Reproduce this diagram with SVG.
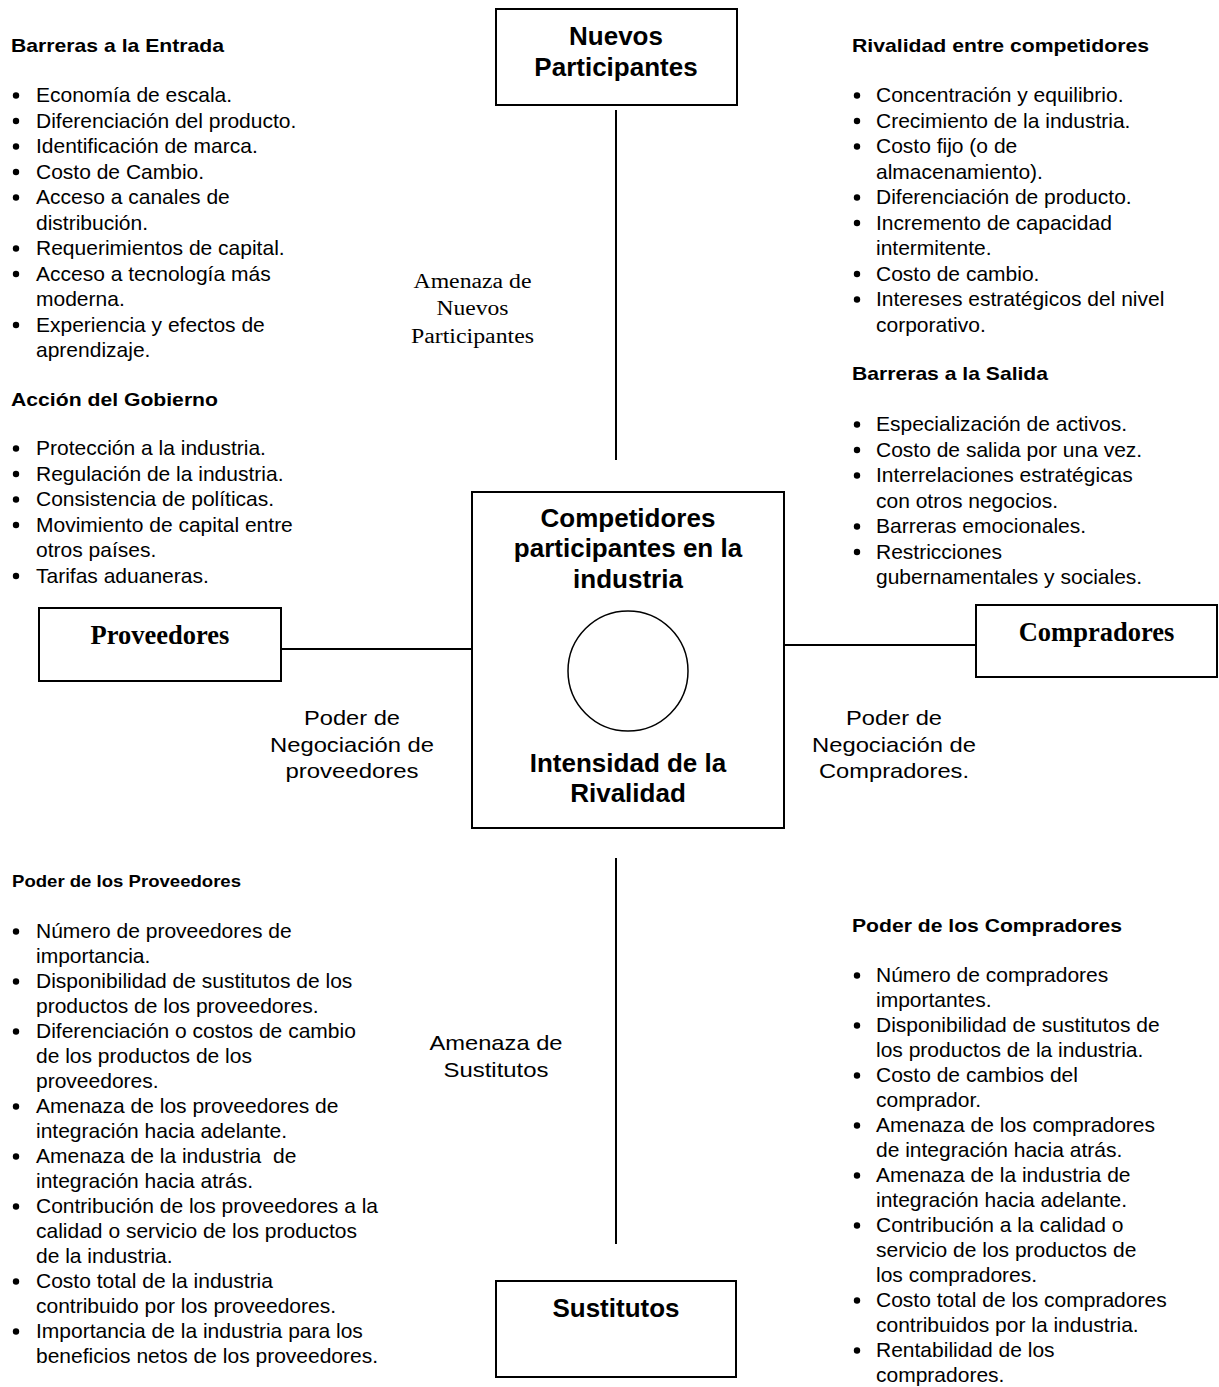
<svg xmlns="http://www.w3.org/2000/svg" width="1219" height="1387" viewBox="0 0 1219 1387">
<style>
.box{fill:#fff;stroke:#000;stroke-width:2}
.ln{stroke:#000;stroke-width:2;fill:none}
.t{font-family:"Liberation Sans",Arial,sans-serif;font-size:21px;fill:#000}
.h{font-family:"Liberation Sans",Arial,sans-serif;font-size:19px;font-weight:bold;fill:#000}
.hs{font-family:"Liberation Sans",Arial,sans-serif;font-size:16.5px;font-weight:bold;fill:#000}
.nb{font-family:"Liberation Sans",Arial,sans-serif;font-size:26px;font-weight:bold;fill:#000;text-anchor:middle}
.sb{font-family:"Liberation Serif","Times New Roman",serif;font-size:26.5px;font-weight:bold;fill:#000;text-anchor:middle}
.sr{font-family:"Liberation Serif","Times New Roman",serif;font-size:20.5px;fill:#000;text-anchor:middle}
.lb{font-family:"Liberation Sans",Arial,sans-serif;font-size:21px;fill:#000;text-anchor:middle}
.b{fill:#000}
</style>
<rect width="1219" height="1387" fill="#fff"/>

<g id="connectors">
<line class="ln" x1="616" y1="110" x2="616" y2="460"/>
<line class="ln" x1="616" y1="858" x2="616" y2="1244"/>
<line class="ln" x1="281" y1="649" x2="472" y2="649"/>
<line class="ln" x1="784" y1="645" x2="976" y2="645"/>
</g>

<g id="node-nuevos">
<rect class="box" x="496" y="9" width="241" height="96"/>
<text class="nb" x="616" y="45">Nuevos</text>
<text class="nb" x="616" y="76">Participantes</text>
</g>

<g id="node-competidores">
<rect class="box" x="472" y="492" width="312" height="336"/>
<text class="nb" x="628" y="527">Competidores</text>
<text class="nb" x="628" y="557">participantes en la</text>
<text class="nb" x="628" y="588">industria</text>
<circle cx="628" cy="671" r="60" fill="#fff" stroke="#000" stroke-width="1.5"/>
<text class="nb" x="628" y="772">Intensidad de la</text>
<text class="nb" x="628" y="802">Rivalidad</text>
</g>

<g id="node-proveedores">
<rect class="box" x="39" y="608" width="242" height="73"/>
<text class="sb" x="160" y="644">Proveedores</text>
</g>

<g id="node-compradores">
<rect class="box" x="976" y="605" width="241" height="72"/>
<text class="sb" x="1096.5" y="641">Compradores</text>
</g>

<g id="node-sustitutos">
<rect class="box" x="496" y="1281" width="240" height="96"/>
<text class="nb" x="616" y="1317">Sustitutos</text>
</g>

<g id="label-amenaza-nuevos">
<text class="sr" x="472.5" y="288" textLength="118" lengthAdjust="spacingAndGlyphs">Amenaza de</text>
<text class="sr" x="472.5" y="315" textLength="72" lengthAdjust="spacingAndGlyphs">Nuevos</text>
<text class="sr" x="472.5" y="343" textLength="123" lengthAdjust="spacingAndGlyphs">Participantes</text>
</g>

<g id="label-poder-proveedores">
<text class="lb" x="352" y="725" textLength="96" lengthAdjust="spacingAndGlyphs">Poder de</text>
<text class="lb" x="352" y="751.5" textLength="164" lengthAdjust="spacingAndGlyphs">Negociación de</text>
<text class="lb" x="352" y="778" textLength="133" lengthAdjust="spacingAndGlyphs">proveedores</text>
</g>

<g id="label-poder-compradores">
<text class="lb" x="894" y="725" textLength="96" lengthAdjust="spacingAndGlyphs">Poder de</text>
<text class="lb" x="894" y="751.5" textLength="164" lengthAdjust="spacingAndGlyphs">Negociación de</text>
<text class="lb" x="894" y="778" textLength="150" lengthAdjust="spacingAndGlyphs">Compradores.</text>
</g>

<g id="label-amenaza-sustitutos">
<text class="lb" x="496" y="1050" textLength="133" lengthAdjust="spacingAndGlyphs">Amenaza de</text>
<text class="lb" x="496" y="1076.5" textLength="105" lengthAdjust="spacingAndGlyphs">Sustitutos</text>
</g>

<g id="list-barreras-entrada">
<text class="h" x="11" y="52" textLength="213" lengthAdjust="spacingAndGlyphs">Barreras a la Entrada</text>
<circle class="b" cx="16" cy="95.5" r="3.2"/>
<text class="t" x="36" y="102">Economía de escala.</text>
<circle class="b" cx="16" cy="121" r="3.2"/>
<text class="t" x="36" y="127.5">Diferenciación del producto.</text>
<circle class="b" cx="16" cy="146.5" r="3.2"/>
<text class="t" x="36" y="153">Identificación de marca.</text>
<circle class="b" cx="16" cy="172" r="3.2"/>
<text class="t" x="36" y="178.5">Costo de Cambio.</text>
<circle class="b" cx="16" cy="197.5" r="3.2"/>
<text class="t" x="36" y="204">Acceso a canales de</text>
<text class="t" x="36" y="229.5">distribución.</text>
<circle class="b" cx="16" cy="248.5" r="3.2"/>
<text class="t" x="36" y="255">Requerimientos de capital.</text>
<circle class="b" cx="16" cy="274" r="3.2"/>
<text class="t" x="36" y="280.5">Acceso a tecnología más</text>
<text class="t" x="36" y="306">moderna.</text>
<circle class="b" cx="16" cy="325" r="3.2"/>
<text class="t" x="36" y="331.5">Experiencia y efectos de</text>
<text class="t" x="36" y="357">aprendizaje.</text>
</g>

<g id="list-gobierno">
<text class="h" x="11" y="406" textLength="207" lengthAdjust="spacingAndGlyphs">Acción del Gobierno</text>
<circle class="b" cx="16" cy="448.5" r="3.2"/>
<text class="t" x="36" y="455">Protección a la industria.</text>
<circle class="b" cx="16" cy="474" r="3.2"/>
<text class="t" x="36" y="480.5">Regulación de la industria.</text>
<circle class="b" cx="16" cy="499.5" r="3.2"/>
<text class="t" x="36" y="506">Consistencia de políticas.</text>
<circle class="b" cx="16" cy="525" r="3.2"/>
<text class="t" x="36" y="531.5">Movimiento de capital entre</text>
<text class="t" x="36" y="557">otros países.</text>
<circle class="b" cx="16" cy="576" r="3.2"/>
<text class="t" x="36" y="582.5">Tarifas aduaneras.</text>
</g>

<g id="list-rivalidad">
<text class="h" x="852" y="52" textLength="297" lengthAdjust="spacingAndGlyphs">Rivalidad entre competidores</text>
<circle class="b" cx="857" cy="95.5" r="3.2"/>
<text class="t" x="876" y="102">Concentración y equilibrio.</text>
<circle class="b" cx="857" cy="121" r="3.2"/>
<text class="t" x="876" y="127.5">Crecimiento de la industria.</text>
<circle class="b" cx="857" cy="146.5" r="3.2"/>
<text class="t" x="876" y="153">Costo fijo (o de</text>
<text class="t" x="876" y="178.5">almacenamiento).</text>
<circle class="b" cx="857" cy="197.5" r="3.2"/>
<text class="t" x="876" y="204">Diferenciación de producto.</text>
<circle class="b" cx="857" cy="223" r="3.2"/>
<text class="t" x="876" y="229.5">Incremento de capacidad</text>
<text class="t" x="876" y="255">intermitente.</text>
<circle class="b" cx="857" cy="274" r="3.2"/>
<text class="t" x="876" y="280.5">Costo de cambio.</text>
<circle class="b" cx="857" cy="299.5" r="3.2"/>
<text class="t" x="876" y="306">Intereses estratégicos del nivel</text>
<text class="t" x="876" y="331.5">corporativo.</text>
</g>

<g id="list-barreras-salida">
<text class="h" x="852" y="380" textLength="196" lengthAdjust="spacingAndGlyphs">Barreras a la Salida</text>
<circle class="b" cx="857" cy="424.5" r="3.2"/>
<text class="t" x="876" y="431">Especialización de activos.</text>
<circle class="b" cx="857" cy="450" r="3.2"/>
<text class="t" x="876" y="456.5">Costo de salida por una vez.</text>
<circle class="b" cx="857" cy="475.5" r="3.2"/>
<text class="t" x="876" y="482">Interrelaciones estratégicas</text>
<text class="t" x="876" y="507.5">con otros negocios.</text>
<circle class="b" cx="857" cy="526.5" r="3.2"/>
<text class="t" x="876" y="533">Barreras emocionales.</text>
<circle class="b" cx="857" cy="552" r="3.2"/>
<text class="t" x="876" y="558.5">Restricciones</text>
<text class="t" x="876" y="584">gubernamentales y sociales.</text>
</g>

<g id="list-poder-proveedores">
<text class="hs" x="12" y="887" textLength="229" lengthAdjust="spacingAndGlyphs">Poder de los Proveedores</text>
<circle class="b" cx="16" cy="931.5" r="3.2"/>
<text class="t" x="36" y="938">Número de proveedores de</text>
<text class="t" x="36" y="963">importancia.</text>
<circle class="b" cx="16" cy="981.5" r="3.2"/>
<text class="t" x="36" y="988">Disponibilidad de sustitutos de los</text>
<text class="t" x="36" y="1013">productos de los proveedores.</text>
<circle class="b" cx="16" cy="1031.5" r="3.2"/>
<text class="t" x="36" y="1038">Diferenciación o costos de cambio</text>
<text class="t" x="36" y="1063">de los productos de los</text>
<text class="t" x="36" y="1088">proveedores.</text>
<circle class="b" cx="16" cy="1106.5" r="3.2"/>
<text class="t" x="36" y="1113">Amenaza de los proveedores de</text>
<text class="t" x="36" y="1138">integración hacia adelante.</text>
<circle class="b" cx="16" cy="1156.5" r="3.2"/>
<text class="t" x="36" y="1163" xml:space="preserve">Amenaza de la industria  de</text>
<text class="t" x="36" y="1188">integración hacia atrás.</text>
<circle class="b" cx="16" cy="1206.5" r="3.2"/>
<text class="t" x="36" y="1213">Contribución de los proveedores a la</text>
<text class="t" x="36" y="1238">calidad o servicio de los productos</text>
<text class="t" x="36" y="1263">de la industria.</text>
<circle class="b" cx="16" cy="1281.5" r="3.2"/>
<text class="t" x="36" y="1288">Costo total de la industria</text>
<text class="t" x="36" y="1313">contribuido por los proveedores.</text>
<circle class="b" cx="16" cy="1331.5" r="3.2"/>
<text class="t" x="36" y="1338">Importancia de la industria para los</text>
<text class="t" x="36" y="1363">beneficios netos de los proveedores.</text>
</g>

<g id="list-poder-compradores">
<text class="h" x="852" y="932" textLength="270" lengthAdjust="spacingAndGlyphs">Poder de los Compradores</text>
<circle class="b" cx="857" cy="975.5" r="3.2"/>
<text class="t" x="876" y="982">Número de compradores</text>
<text class="t" x="876" y="1007">importantes.</text>
<circle class="b" cx="857" cy="1025.5" r="3.2"/>
<text class="t" x="876" y="1032">Disponibilidad de sustitutos de</text>
<text class="t" x="876" y="1057">los productos de la industria.</text>
<circle class="b" cx="857" cy="1075.5" r="3.2"/>
<text class="t" x="876" y="1082">Costo de cambios del</text>
<text class="t" x="876" y="1107">comprador.</text>
<circle class="b" cx="857" cy="1125.5" r="3.2"/>
<text class="t" x="876" y="1132">Amenaza de los compradores</text>
<text class="t" x="876" y="1157">de integración hacia atrás.</text>
<circle class="b" cx="857" cy="1175.5" r="3.2"/>
<text class="t" x="876" y="1182">Amenaza de la industria de</text>
<text class="t" x="876" y="1207">integración hacia adelante.</text>
<circle class="b" cx="857" cy="1225.5" r="3.2"/>
<text class="t" x="876" y="1232">Contribución a la calidad o</text>
<text class="t" x="876" y="1257">servicio de los productos de</text>
<text class="t" x="876" y="1282">los compradores.</text>
<circle class="b" cx="857" cy="1300.5" r="3.2"/>
<text class="t" x="876" y="1307">Costo total de los compradores</text>
<text class="t" x="876" y="1332">contribuidos por la industria.</text>
<circle class="b" cx="857" cy="1350.5" r="3.2"/>
<text class="t" x="876" y="1357">Rentabilidad de los</text>
<text class="t" x="876" y="1382">compradores.</text>
</g>
</svg>
